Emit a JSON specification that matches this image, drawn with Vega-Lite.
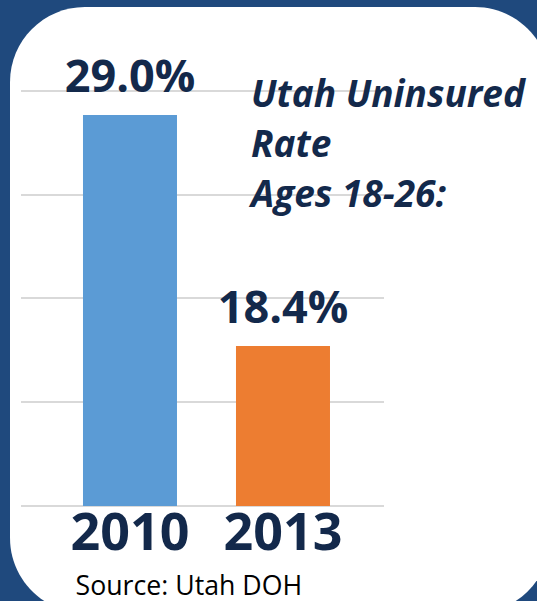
{
  "$schema": "https://vega.github.io/schema/vega-lite/v6.json",
  "width": 540,
  "height": 606,
  "autosize": {"type": "none"},
  "padding": {"left": 10, "top": 7, "right": -13, "bottom": -12},
  "background": "#1f497d",
  "title": {
    "text": ["Utah Uninsured", "Rate", "Ages 18-26:"],
    "anchor": "start",
    "frame": "group",
    "dx": 241,
    "dy": 208,
    "offset": 0,
    "font": "Open Sans",
    "fontSize": 37,
    "fontWeight": "bold",
    "fontStyle": "italic",
    "color": "#13294b",
    "lineHeight": 50
  },
  "config": {
    "view": {"fill": "#ffffff", "stroke": null, "cornerRadius": 75}
  },
  "datasets": {
    "rates": [
      {"year": "2010", "rate": 0.29},
      {"year": "2013", "rate": 0.184}
    ],
    "grid": [
      {"g": 0.30101},
      {"g": 0.25329},
      {"g": 0.20602},
      {"g": 0.15829},
      {"g": 0.11056}
    ]
  },
  "resolve": {"scale": {"x": "independent"}, "axis": {"x": "independent"}},
  "layer": [
    {
      "data": {"name": "grid"},
      "mark": {"type": "rule", "color": "#d9d9d9", "strokeWidth": 2},
      "encoding": {
        "x": {"datum": 0, "type": "quantitative", "scale": {"domain": [0, 1], "range": [11, 374]}, "axis": null},
        "x2": {"datum": 1},
        "y": {"field": "g", "type": "quantitative", "scale": {"domain": [0.06146, 0.33956], "nice": false, "zero": false}, "axis": null}
      }
    },
    {
      "layer": [
        {
          "mark": {"type": "bar"},
          "encoding": {
            "y2": {"datum": 0.11056},
            "color": {
              "field": "year",
              "type": "nominal",
              "scale": {"domain": ["2010", "2013"], "range": ["#5b9bd5", "#ed7d31"]},
              "legend": null
            }
          }
        },
        {
          "mark": {
            "type": "text",
            "baseline": "alphabetic",
            "align": "center",
            "dy": -23,
            "font": "Open Sans",
            "fontSize": 45,
            "fontWeight": "bold",
            "color": "#13294b"
          },
          "encoding": {
            "text": {"field": "rate", "type": "quantitative", "format": ".1%"}
          }
        }
      ],
      "data": {"name": "rates"},
      "encoding": {
        "x": {
          "field": "year",
          "type": "nominal",
          "scale": {"domain": ["2010", "2013"], "paddingInner": 0.3856, "paddingOuter": 0.9575, "align": 0.2491},
          "axis": {
            "orient": "bottom",
            "offset": -107,
            "domain": false,
            "ticks": false,
            "tickSize": 0,
            "grid": false,
            "labelAngle": 0,
            "labelFont": "Open Sans",
            "labelFontSize": 52,
            "labelFontWeight": "bold",
            "labelColor": "#13294b",
            "labelBaseline": "alphabetic",
            "labelPadding": 43,
            "title": "Source: Utah DOH",
            "titleFont": "Open Sans",
            "titleFontSize": 26.7,
            "titleFontWeight": "normal",
            "titleColor": "#000000",
            "titleAnchor": "start",
            "titleAlign": "left",
            "titleBaseline": "alphabetic",
            "titleX": 65,
            "titleY": 88
          }
        },
        "y": {
          "field": "rate",
          "type": "quantitative",
          "scale": {"domain": [0.06146, 0.33956], "nice": false, "zero": false},
          "axis": null
        }
      }
    }
  ]
}
